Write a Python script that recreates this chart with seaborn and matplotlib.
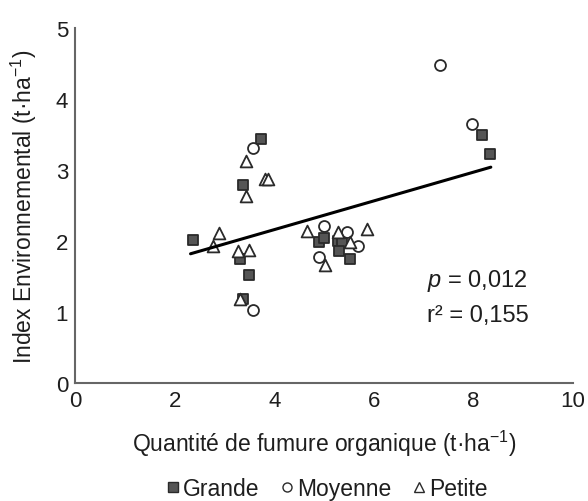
import matplotlib
matplotlib.use("Agg")
import matplotlib.pyplot as plt
import seaborn as sns
import pandas as pd
from matplotlib.lines import Line2D

# Data
grande_x = [3.73, 3.38, 2.36, 3.31, 3.50, 3.38, 4.90, 4.99, 5.28, 5.37, 5.31, 5.52, 8.17, 8.33]
grande_y = [3.43, 2.79, 2.01, 1.75, 1.52, 1.19, 1.98, 2.04, 2.00, 1.97, 1.86, 1.74, 3.49, 3.22]
moyenne_x = [3.58, 3.58, 5.01, 5.47, 5.69, 4.90, 7.32, 7.97]
moyenne_y = [3.31, 1.03, 2.21, 2.12, 1.93, 1.77, 4.48, 3.65]
petite_x = [3.43, 3.82, 3.88, 3.43, 2.90, 2.78, 3.27, 3.50, 3.31, 4.66, 5.28, 5.86, 5.52, 5.02]
petite_y = [3.13, 2.88, 2.88, 2.63, 2.11, 1.93, 1.86, 1.87, 1.18, 2.14, 2.12, 2.17, 1.98, 1.66]
fit_x = [2.32, 8.35]
fit_y = [1.82, 3.04]
x_ticks = [0, 2, 4, 6, 8, 10]
y_ticks = [0, 1, 2, 3, 4, 5]
groups = ["Grande", "Moyenne", "Petite"]

sns.set_theme(style="white")
plt.rcParams["font.family"] = ["Liberation Sans", "DejaVu Sans"]
plt.rcParams["mathtext.fontset"] = "custom"
plt.rcParams["mathtext.rm"] = "Liberation Sans"
plt.rcParams["mathtext.it"] = "Liberation Sans:italic"

df = pd.concat([
    pd.DataFrame({"x": grande_x, "y": grande_y, "g": groups[0]}),
    pd.DataFrame({"x": moyenne_x, "y": moyenne_y, "g": groups[1]}),
    pd.DataFrame({"x": petite_x, "y": petite_y, "g": groups[2]}),
])

fig = plt.figure(figsize=(5.88, 5.02), dpi=100)
ax = fig.add_axes([75/588, 1-384/502, (573-75)/588, (384-29)/502])

edge = "#2a2a2a"
txt = "#1e1e1e"
styles = {
    "Grande": dict(marker="s", facecolor="#555555", s=60),
    "Moyenne": dict(marker="o", facecolor="white", s=62),
    "Petite": dict(marker="^", facecolor="white", s=72),
}
for g in groups:
    sub = df[df.g == g]
    st = styles[g]
    sns.scatterplot(data=sub, x="x", y="y", ax=ax, marker=st["marker"], s=st["s"],
                    color=st["facecolor"], edgecolor=edge, linewidth=1.3, zorder=3)

sns.lineplot(x=fit_x, y=fit_y, ax=ax, color="black", linewidth=2.2, zorder=4)

ax.set_xlim(0, 10)
ax.set_ylim(0, 5)
ax.set_xticks(x_ticks)
ax.set_yticks(y_ticks)
ax.tick_params(axis="both", length=0, labelsize=16, colors=txt, pad=5)
for side in ["top", "right"]:
    ax.spines[side].set_visible(False)
for side in ["left", "bottom"]:
    ax.spines[side].set_color("#666666")
    ax.spines[side].set_linewidth(1.5)

ax.set_xlabel("Quantité de fumure organique (t·ha$^{-1}$)", fontsize=16.5, color=txt, labelpad=12)
ax.set_ylabel("Index Environnemental (t·ha$^{-1}$)", fontsize=16.5, color=txt, labelpad=12)

ax.text(427/588, 1-281/502, "$p$ = 0,012", transform=fig.transFigure, fontsize=17,
        va="center", ha="left", color=txt)
ax.text(427/588, 1-316/502, "r² = 0,155", transform=fig.transFigure, fontsize=17,
        va="center", ha="left", color=txt)

handles = [
    Line2D([], [], marker="s", linestyle="none", markerfacecolor="#555555", markeredgecolor=edge, markersize=7, markeredgewidth=1),
    Line2D([], [], marker="o", linestyle="none", markerfacecolor="white", markeredgecolor=edge, markersize=6.5, markeredgewidth=1),
    Line2D([], [], marker="^", linestyle="none", markerfacecolor="white", markeredgecolor=edge, markersize=6.5, markeredgewidth=1),
]
fig.legend(handles, groups, loc="center", bbox_to_anchor=(327/588, 1-490/502), ncol=3,
           frameon=False, fontsize=16.5, handletextpad=0.15, columnspacing=0.9,
           handlelength=0.6, labelcolor=txt)

fig.savefig("out.png", dpi=100)
